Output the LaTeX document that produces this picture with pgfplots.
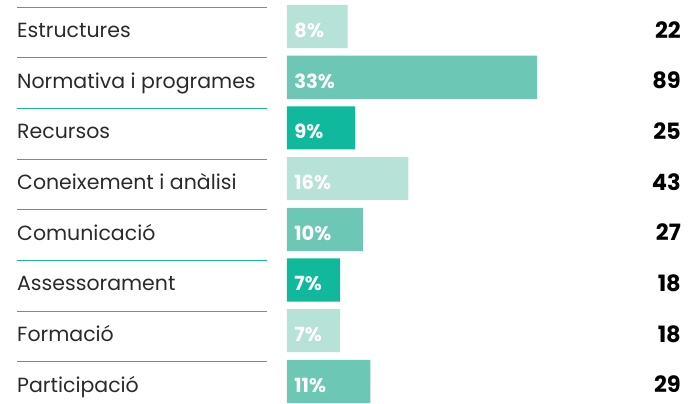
\documentclass[border=0pt]{standalone}
\usepackage{pgfplots}
\pgfplotsset{compat=1.18}
\usepackage{fontspec}
\setmainfont{Poppins}

\definecolor{barlight}{HTML}{B7E2D7}
\definecolor{barmid}{HTML}{6CC8B4}
\definecolor{bardark}{HTML}{10B99B}
\definecolor{sepline}{HTML}{1DB99C}
\definecolor{txt}{HTML}{2A2A2A}

\tikzset{
    lbl/.style={anchor=base west, font=\fontsize{20.5}{20.5}\selectfont, text=txt, inner sep=0pt, yshift=-11pt},
    pct/.style={anchor=base west, font=\fontsize{19.5}{19.5}\selectfont\bfseries, text=white, inner sep=0pt, yshift=-11pt},
    cnt/.style={anchor=base east, font=\fontsize{22.5}{22.5}\selectfont\bfseries, text=black, inner sep=0pt, yshift=-11.5pt},
}

\begin{document}
\begin{tikzpicture}
\begin{axis}[
    scale only axis,
    width=691pt, height=404pt,
    xmin=-37.86, xmax=53.3,
    ymin=-0.523, ymax=7.446,
    y dir=reverse,
    hide axis,
    xbar, bar width=0.85, bar shift=0,
    clip=false,
]
% bars, percentages
\addplot[draw=none, fill=barlight] coordinates {(8,0) (16,3) (7,6)};
\addplot[draw=none, fill=barmid] coordinates {(33,1) (10,4) (11,7)};
\addplot[draw=none, fill=bardark] coordinates {(9,2) (7,5)};

% separators
\draw[sepline, line width=1pt] (axis cs:-35.62,-0.385) -- (axis cs:-2.64,-0.385);
\draw[sepline, line width=1pt] (axis cs:-35.62,0.615) -- (axis cs:-2.64,0.615);
\draw[sepline, line width=1pt] (axis cs:-35.62,1.615) -- (axis cs:-2.64,1.615);
\draw[sepline, line width=1pt] (axis cs:-35.62,2.615) -- (axis cs:-2.64,2.615);
\draw[sepline, line width=1pt] (axis cs:-35.62,3.615) -- (axis cs:-2.64,3.615);
\draw[sepline, line width=1pt] (axis cs:-35.62,4.615) -- (axis cs:-2.64,4.615);
\draw[sepline, line width=1pt] (axis cs:-35.62,5.615) -- (axis cs:-2.64,5.615);
\draw[sepline, line width=1pt] (axis cs:-35.62,6.615) -- (axis cs:-2.64,6.615);

% category labels
\node[lbl] at (axis cs:-35.62,0) {Estructures};
\node[lbl] at (axis cs:-35.62,1) {Normativa i programes};
\node[lbl] at (axis cs:-35.62,2) {Recursos};
\node[lbl] at (axis cs:-35.62,3) {Coneixement i anàlisi};
\node[lbl] at (axis cs:-35.62,4) {Comunicació};
\node[lbl] at (axis cs:-35.62,5) {Assessorament};
\node[lbl] at (axis cs:-35.62,6) {Formació};
\node[lbl] at (axis cs:-35.62,7) {Participació};

% percentages inside bars
\node[pct] at (axis cs:0.95,0) {8\%};
\node[pct] at (axis cs:0.95,1) {33\%};
\node[pct] at (axis cs:0.95,2) {9\%};
\node[pct] at (axis cs:0.95,3) {16\%};
\node[pct] at (axis cs:0.95,4) {10\%};
\node[pct] at (axis cs:0.95,5) {7\%};
\node[pct] at (axis cs:0.95,6) {7\%};
\node[pct] at (axis cs:0.95,7) {11\%};

% counts
\node[cnt] at (axis cs:51.98,0) {22};
\node[cnt] at (axis cs:51.98,1) {89};
\node[cnt] at (axis cs:51.98,2) {25};
\node[cnt] at (axis cs:51.98,3) {43};
\node[cnt] at (axis cs:51.98,4) {27};
\node[cnt] at (axis cs:51.98,5) {18};
\node[cnt] at (axis cs:51.98,6) {18};
\node[cnt] at (axis cs:51.98,7) {29};
\end{axis}
\pgfresetboundingbox
\path (current axis.south west) rectangle (current axis.north east);
\end{tikzpicture}
\end{document}
